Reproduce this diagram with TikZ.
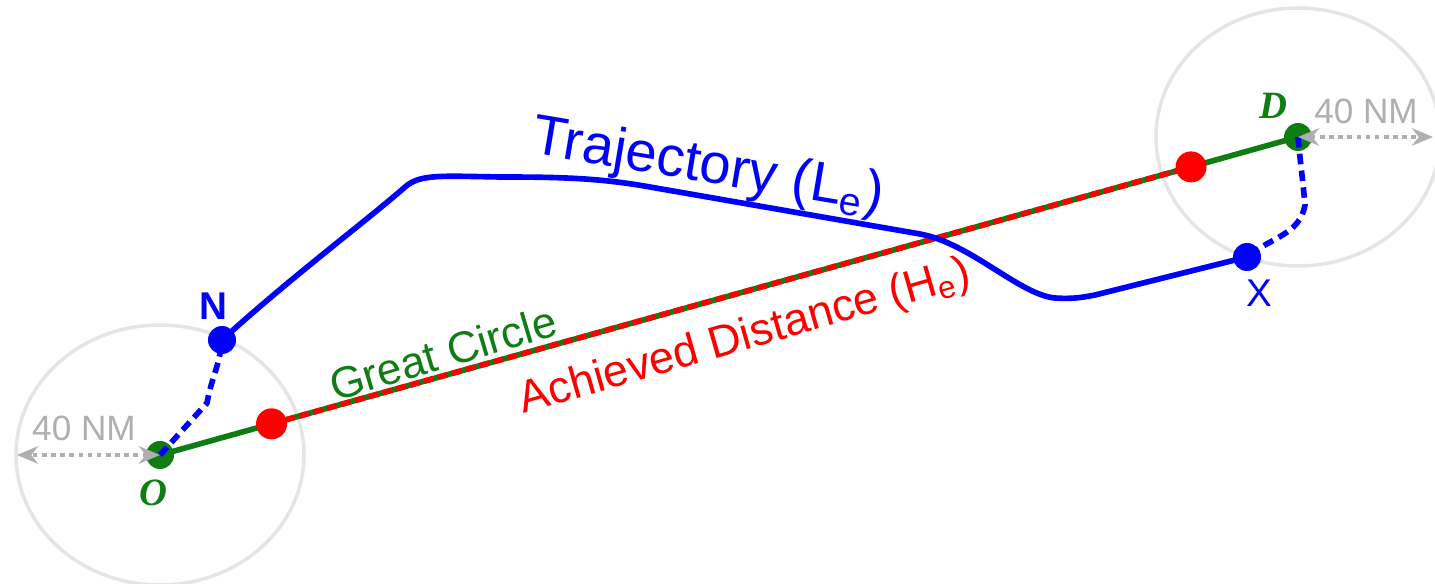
\documentclass[tikz,border=0pt]{standalone}
\usepackage{fontspec}
\setmainfont{Liberation Serif}
\setsansfont{Liberation Sans}
\usepackage{xcolor}
\usepackage{tikz}
\usetikzlibrary{arrows.meta,positioning,calc}
\definecolor{gcgreen}{RGB}{15,125,20}
\definecolor{nmgray}{RGB}{175,175,175}

\begin{document}
\begin{tikzpicture}[
  dot/.style={circle, inner sep=0pt, minimum size=0.28cm},
  zone/.style={draw=gray!20, line width=1pt},
  reach/.style={draw=nmgray, line width=1.3pt, dash pattern=on 1.3pt off 1.3pt, {Stealth[length=6pt,width=5pt]}-{Stealth[length=6pt,width=5pt]}},
  gc/.style={draw=gcgreen, line width=1.6pt},
  achieved/.style={draw=red, line width=1.6pt, dash pattern=on 2.8pt off 1.3pt},
  traj/.style={draw=blue, line width=1.6pt},
  leg/.style={draw=blue, line width=1.6pt, dash pattern=on 3pt off 1.8pt},
  label/.style={font=\sffamily},
  city/.style={font=\bfseries\itshape, text=gcgreen}
]
  \useasboundingbox (0,0) rectangle (14.35,5.83);

  % Points
  \coordinate (O) at (1.60,1.28);
  \coordinate (D) at (12.98,4.46);
  \coordinate (N) at (2.22,2.43);
  \coordinate (X) at (12.47,3.26);
  \coordinate (Hin) at ($(O)!0.098!(D)$);
  \coordinate (Hout) at ($(O)!0.906!(D)$);
  \coordinate (oBend) at (2.07,1.80);
  \coordinate (dBend) at (13.05,3.78);
  \coordinate (oEdge) at (0.17,1.28);
  \coordinate (dEdge) at (14.33,4.46);

  % 40 NM zones
  \draw[zone] (O) ellipse [x radius=1.44, y radius=1.30];
  \draw[zone] (D) ellipse [x radius=1.42, y radius=1.29];

  % Great circle and achieved part
  \draw[gc] (O) -- (D);
  \draw[achieved] (Hin) -- (Hout);

  % Trajectory
  \draw[traj] (N) .. controls (2.9,3.05) and (3.7,3.65) .. (4.05,3.96)
    .. controls (4.2,4.09) and (4.4,4.07) .. (5.0,4.06)
    .. controls (5.6,4.06) and (6.0,4.05) .. (6.5,3.96)
    -- (9.2,3.49)
    .. controls (9.7,3.40) and (10.2,2.88) .. (10.55,2.85)
    .. controls (10.7,2.84) and (10.8,2.85) .. (10.95,2.88) -- (X);

  % Dots
  \node[dot, fill=gcgreen] (Odot) at (O) {};
  \node[dot, fill=gcgreen] (Ddot) at (D) {};
  \node[dot, fill=red, minimum size=0.31cm] (Hindot) at (Hin) {};
  \node[dot, fill=red, minimum size=0.31cm] (Houtdot) at (Hout) {};

  % Legs to/from the zones
  \draw[leg] (Odot.center) -- (oBend) to[out=80, in=-95] (N);
  \draw[leg] (Ddot.center) to[out=-85, in=95] (dBend) to[out=-100, in=40] (X);

  \node[dot, fill=blue] (Ndot) at (N) {};
  \node[dot, fill=blue] (Xdot) at (X) {};

  % Radius arrows
  \draw[reach] (Odot.center) -- (oEdge);
  \draw[reach] (Ddot.center) -- (dEdge);

  % Labels
  \node[label, text=nmgray, font=\sffamily\fontsize{10}{12}\selectfont] (oNM) at (0.84,1.55) {40 NM};
  \node[label, text=nmgray, font=\sffamily\fontsize{10}{12}\selectfont] (dNM) at (13.66,4.72) {40 NM};
  \node[city, font=\bfseries\itshape\fontsize{11}{13}\selectfont] (Olbl) at (1.53,0.90) {O};
  \node[city, font=\bfseries\itshape\fontsize{11}{13}\selectfont] (Dlbl) at (12.73,4.77) {D};
  \node[label, text=blue, font=\sffamily\bfseries\fontsize{11}{13}\selectfont] (Nlbl) at (2.13,2.77) {N};
  \node[label, text=blue, font=\sffamily\fontsize{11}{13}\selectfont] (Xlbl) at (12.59,2.90) {X};
  \node[label, text=blue, rotate=-9.5, font=\sffamily\fontsize{16}{19}\selectfont] (trajlbl) at (7.08,4.15) {Trajectory (L\textsubscript{e})};
  \node[label, text=gcgreen, rotate=16.5, font=\sffamily\fontsize{12.5}{15}\selectfont] (gclbl) at (4.43,2.30) {Great Circle};
  \node[label, text=red, rotate=16, font=\sffamily\fontsize{12.8}{15}\selectfont] (hlbl) at (7.45,2.45) {Achieved Distance (H\textsubscript{e})};
\end{tikzpicture}
\end{document}
